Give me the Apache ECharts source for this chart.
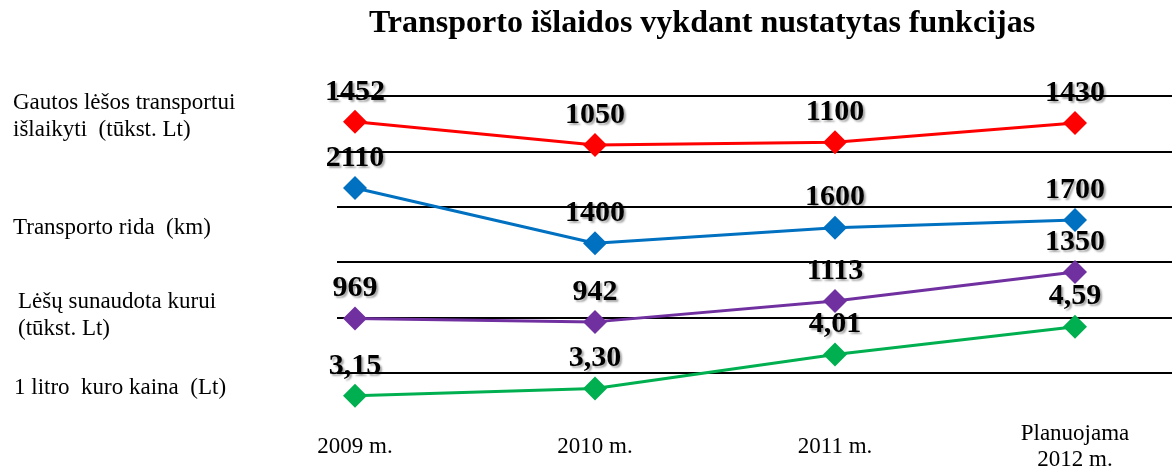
<!DOCTYPE html>
<html>
<head>
<meta charset="utf-8">
<script src="https://cdn.jsdelivr.net/npm/echarts@6/dist/echarts.min.js"></script>
<style>
  html, body { margin: 0; padding: 0; background: #fff; }
  #chart { width: 1172px; height: 473px; }
</style>
</head>
<body>
<div id="chart"></div>
<script>
// kategorijos (metai)
var years = ['2009 m.', '2010 m.', '2011 m.', 'Planuojama\n2012 m.'];
// eilučių pavadinimai kairėje
var rowNames = ['Gautos lėšos transportui\nišlaikyti  (tūkst. Lt)', 'Transporto rida  (km)', 'Lėšų sunaudota kurui\n(tūkst. Lt)', '1 litro  kuro kaina  (Lt)'];
// duomenys
var gautosLesos = [1452, 1050, 1100, 1430];
var rida = [2110, 1400, 1600, 1700];
var kuras = [969, 942, 1113, 1350];
var kaina = [3.15, 3.30, 4.01, 4.59];
// kainos etiketės su kableliu
var kainaLabels = ['3,15', '3,30', '4,01', '4,59'];

var serif = '"Liberation Serif", "Times New Roman", serif';
var chart = echarts.init(document.getElementById('chart'));

// kiekviena eilutė turi savo tinklelį ir y ašies skalę
var bands = [
  { top: 119, height: 29, min: 1000, max: 1500, data: gautosLesos, color: '#FF0000' },
  { top: 181, height: 70, min: 1300, max: 2200, data: rida, color: '#0070C0' },
  { top: 266, height: 61, min: 900, max: 1400, data: kuras, color: '#7030A0' },
  { top: 307, height: 102, min: 3, max: 5, data: kaina, color: '#00B050', labels: kainaLabels }
];

var grids = [{ left: 337, right: 0, top: 96, bottom: 100 }];
var xAxes = [{ gridIndex: 0, type: 'category', data: years, show: false }];
var yAxes = [{
  gridIndex: 0, type: 'value', min: 0, max: 5, interval: 1,
  axisLine: { show: false }, axisTick: { show: false }, axisLabel: { show: false },
  splitLine: { show: true, lineStyle: { color: '#000', width: 2 } }
}];
var series = [];

bands.forEach(function (b, i) {
  var last = i === bands.length - 1;
  grids.push({ left: 355, right: 97, top: b.top, height: b.height });
  xAxes.push({
    gridIndex: i + 1, type: 'category', data: years, boundaryGap: false,
    axisLine: { show: false }, axisTick: { show: false },
    axisLabel: {
      show: last, color: '#000', fontFamily: serif, fontSize: 23,
      margin: 44, verticalAlign: 'middle', lineHeight: 26, interval: 0
    }
  });
  yAxes.push({ gridIndex: i + 1, type: 'value', min: b.min, max: b.max, show: false, splitLine: { show: false } });
  series.push({
    type: 'line',
    xAxisIndex: i + 1,
    yAxisIndex: i + 1,
    data: b.data,
    clip: false,
    symbol: 'diamond',
    symbolSize: 24,
    lineStyle: { color: b.color, width: 3 },
    itemStyle: { color: b.color },
    label: {
      show: true,
      position: 'top',
      distance: 3,
      color: '#000',
      fontFamily: serif,
      fontSize: 30,
      fontWeight: 'bold',
      textShadowColor: 'rgba(0,0,0,0.35)',
      textShadowBlur: 2,
      textShadowOffsetX: 2,
      textShadowOffsetY: 2,
      formatter: b.labels ? function (p) { return b.labels[p.dataIndex]; } : '{c}'
    },
    animation: false
  });
});

// kairės pusės eilučių pavadinimai
var rowPos = [[13, 89], [13, 214], [18, 288], [14, 374]];
var graphics = rowNames.map(function (name, i) {
  return {
    type: 'text',
    left: rowPos[i][0],
    top: rowPos[i][1],
    style: {
      text: name,
      fontFamily: serif,
      fontSize: 23,
      lineHeight: 27,
      fill: '#000'
    }
  };
});

var option = {
  animation: false,
  title: {
    text: 'Transporto išlaidos vykdant nustatytas funkcijas',
    left: 697,
    textAlign: 'center',
    top: 3,
    textStyle: { fontFamily: serif, fontSize: 32, fontWeight: 'bold', color: '#000' }
  },
  grid: grids,
  xAxis: xAxes,
  yAxis: yAxes,
  series: series,
  graphic: graphics
};
chart.setOption(option);
</script>
</body>
</html>
